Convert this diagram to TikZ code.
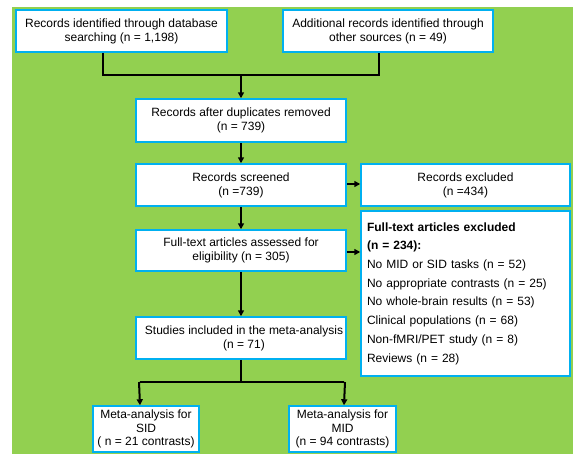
\documentclass[tikz,border=0pt]{standalone}
\usepackage{fontspec}
\setmainfont{Liberation Sans}
\usetikzlibrary{arrows.meta}
\definecolor{bggreen}{HTML}{92D050}
\definecolor{boxblue}{HTML}{00B0F0}
\tikzset{
  box/.style={draw=boxblue, line width=1.5pt, fill=white, inner sep=0pt, align=center,
    font=\fontsize{12}{14}\selectfont},
  conn/.style={draw=black, line width=2pt},
  connthick/.style={draw=black, line width=2.8pt},
  arr/.style={draw=black, line width=2pt, -{Triangle[length=6pt,width=6pt]}},
}
\begin{document}
\begin{tikzpicture}[x=1pt,y=-1pt]
\useasboundingbox (0,0) rectangle (583,463);
\fill[white] (0,0) rectangle (583,463);
\fill[bggreen] (12,7) rectangle (573,454);

\node[box, minimum width=211pt, minimum height=42pt] (b1) at (121.5,31)
  {Records identified through database\\searching (n = 1,198)};
\node[box, minimum width=210pt, minimum height=42pt] (b2) at (388,31)
  {Additional records identified through\\other sources (n = 49)};
\node[box, minimum width=210pt, minimum height=43pt] (dup) at (241,120.5)
  {Records after duplicates removed\\(n = 739)};
\node[box, minimum width=210pt, minimum height=42pt] (scr) at (241,185)
  {Records screened\\(n =739)};
\node[box, minimum width=209pt, minimum height=42pt] (exc) at (465.5,185)
  {Records excluded\\(n =434)};
\node[box, minimum width=210pt, minimum height=41pt] (ass) at (241,250.5)
  {Full-text articles assessed for\\eligibility (n = 305)};
\node[box, minimum width=209pt, minimum height=165pt, inner xsep=6pt, text width=197pt, align=left,
  font=\fontsize{12}{18.7}\selectfont] (ftx) at (465.5,293.5)
  {\textbf{Full-text articles excluded}\\\textbf{(n = 234):}\\No MID or SID tasks (n = 52)\\No appropriate contrasts (n = 25)\\No whole-brain results (n = 53)\\Clinical populations (n = 68)\\Non-fMRI/PET study (n = 8)\\Reviews (n = 28)};
\node[box, minimum width=210pt, minimum height=42pt] (stu) at (241,338)
  {\hspace*{6pt}Studies included in the meta-analysis\\\hspace*{6pt}(n = 71)};
\node[box, minimum width=106pt, minimum height=46pt, font=\fontsize{12}{13.5}\selectfont] (sid) at (146,429)
  {Meta-analysis for\\SID\\( n = 21 contrasts)};
\node[box, minimum width=107pt, minimum height=46pt, font=\fontsize{12}{13.5}\selectfont] (mid) at (342.5,429)
  {Meta-analysis for\\MID\\(n = 94 contrasts)};

\coordinate (a1) at (103,75);
\coordinate (a2) at (379,75);
\coordinate (j1) at (241,75);
\coordinate (c1) at (140,382);
\coordinate (c2) at (344,382);
\coordinate (j2) at (241,382);

\draw[connthick] (b1.south -| a1) -- (a1) -- (a2) -- (b2.south -| a2);
\draw[arr] (j1) -- (dup.north);
\draw[arr] (dup.south) -- (scr.north);
\draw[arr] (scr.east) ++(0,-1) -- ([yshift=1pt]exc.west);
\draw[arr] (scr.south) -- (ass.north);
\draw[arr] ([yshift=-1.5pt]ass.east) -- ([yshift=-1.5pt]ass.east -| ftx.west);
\draw[arr] (ass.south) -- (stu.north);
\draw[conn] (stu.south) -- (j2);
\draw[conn] (c1) -- (c2);
\draw[arr] ([xshift=-1pt]c1) -- (sid.north -| c1);
\draw[arr] ([xshift=1pt]c2) -- (mid.north -| c2);
\end{tikzpicture}
\end{document}
